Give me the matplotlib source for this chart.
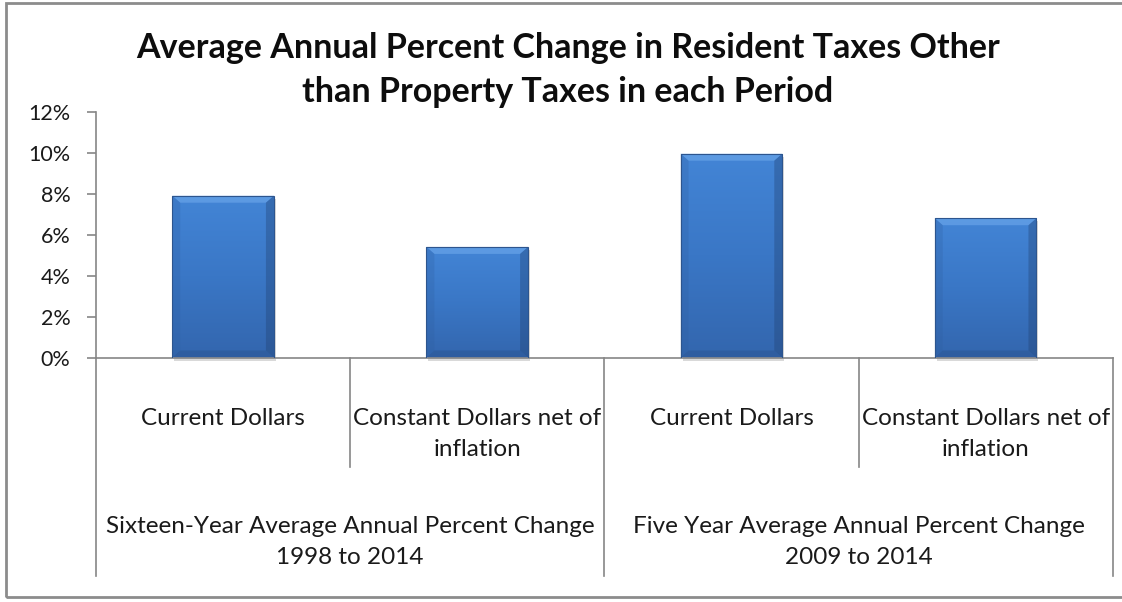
import numpy as np
import matplotlib.pyplot as plt
from matplotlib.patches import Rectangle, Polygon
from matplotlib.ticker import PercentFormatter
from matplotlib.colors import LinearSegmentedColormap
import matplotlib.transforms as mtransforms

plt.rcParams['font.family'] = ['Lato', 'DejaVu Sans']

# data
categories = ["Current Dollars", "Constant Dollars net of\ninflation",
              "Current Dollars", "Constant Dollars net of\ninflation"]
groups = ["Sixteen-Year Average Annual Percent Change\n1998 to 2014",
          "Five Year Average Annual Percent Change\n2009 to 2014"]
values = [7.9, 5.4, 9.95, 6.8]
title = ["Average Annual Percent Change in Resident Taxes Other",
         "than Property Taxes in each Period"]

W, H = 1122, 602
fig = plt.figure(figsize=(W / 100, H / 100), dpi=100)
ax = fig.add_axes([96 / W, 1 - 357.5 / H, (1112.7 - 96) / W, (357.5 - 111.7) / H])

x = np.arange(len(values))
bars = ax.bar(x, values, width=0.4, color='none', edgecolor='none', zorder=3)
ax.set_xlim(-0.5, len(values) - 0.5)
ax.set_ylim(0, 12)
ax.set_yticks(np.arange(0, 13, 2))
ax.yaxis.set_major_formatter(PercentFormatter(decimals=0))
ax.set_xticks([])

gray = '#868686'
txt = '#1a1a1a'
for s in ['top', 'right']:
    ax.spines[s].set_visible(False)
for s in ['left', 'bottom']:
    ax.spines[s].set_color(gray)
    ax.spines[s].set_linewidth(1.2)
ax.tick_params(axis='y', direction='out', length=6.5, width=1.2, color=gray,
               pad=12, labelsize=15.5, labelcolor=txt)

# bevelled gradient bars
cmap = LinearSegmentedColormap.from_list('bar', ['#3366ae', '#3a77c6', '#4385d6'])
grad = np.linspace(0, 1, 256).reshape(-1, 1)
px_x = (ax.get_xlim()[1] - ax.get_xlim()[0]) / (1112.7 - 96)
px_y = 12 / (357.5 - 111.7)
bw, bh = 8 * px_x, 7 * px_y
for b in bars:
    x0, w, h = b.get_x(), b.get_width(), b.get_height()
    x1 = x0 + w
    # drop shadow
    ax.add_patch(Rectangle((x0 + 2 * px_x, -3 * px_y), w, h, facecolor='#000000',
                           alpha=0.15, edgecolor='none', zorder=2, clip_on=False))
    im = ax.imshow(grad, cmap=cmap, aspect='auto', extent=(x0, x1, 0, h),
                   origin='lower', zorder=3, interpolation='bilinear')
    im.set_clip_path(Rectangle((x0, 0), w, h, transform=ax.transData))
    # top bevel light, sides and bottom slightly darker
    ax.add_patch(Polygon([(x0, h), (x1, h), (x1 - bw, h - bh), (x0 + bw, h - bh)],
                         facecolor='#6fa9ec', alpha=0.6, edgecolor='none', zorder=4))
    ax.add_patch(Polygon([(x0, 0), (x0 + bw, bh), (x0 + bw, h - bh), (x0, h)],
                         facecolor='#2f5e9f', alpha=0.25, edgecolor='none', zorder=4))
    ax.add_patch(Polygon([(x1, 0), (x1 - bw, bh), (x1 - bw, h - bh), (x1, h)],
                         facecolor='#203f6e', alpha=0.35, edgecolor='none', zorder=4))
    ax.add_patch(Polygon([(x0, 0), (x1, 0), (x1 - bw, bh), (x0 + bw, bh)],
                         facecolor='#264a80', alpha=0.3, edgecolor='none', zorder=4))
    ax.add_patch(Rectangle((x0, 0), w, h, facecolor='none', edgecolor='#2d558e',
                           linewidth=0.8, zorder=5))

# multi-level category axis
trans = mtransforms.blended_transform_factory(ax.transData, fig.transFigure)
fy = lambda py: 1 - py / H
for xs in [0.5, 2.5]:
    ax.plot([xs, xs], [fy(357.5), fy(467)], color=gray, lw=1.2, transform=trans, clip_on=False)
for xs in [-0.5, 1.5, 3.5]:
    ax.plot([xs, xs], [fy(357.5), fy(576)], color=gray, lw=1.2, transform=trans, clip_on=False)


def label(xc, base, text):
    for k, line in enumerate(text.split('\n')):
        ax.text(xc, fy(base + 31.5 * k), line, transform=trans, ha='center',
                va='baseline', fontsize=17.5, color=txt)


for i, lab in enumerate(categories):
    label(i, 425, lab)
for g, lab in enumerate(groups):
    label(2 * g + 0.5, 533, lab)

for k, line in enumerate(title):
    fig.text(0.506, fy(58 + 44 * k), line, ha='center', va='baseline', fontsize=24.5,
             fontweight='bold', color='#0d0d0d')

# chart border
fig.patches.append(Rectangle((6 / W, fy(597)), (W + 10) / W, (597 - 3) / H,
                             transform=fig.transFigure, facecolor='none',
                             edgecolor='#8c8c8c', linewidth=2))

fig.savefig('out.png', dpi=100)
